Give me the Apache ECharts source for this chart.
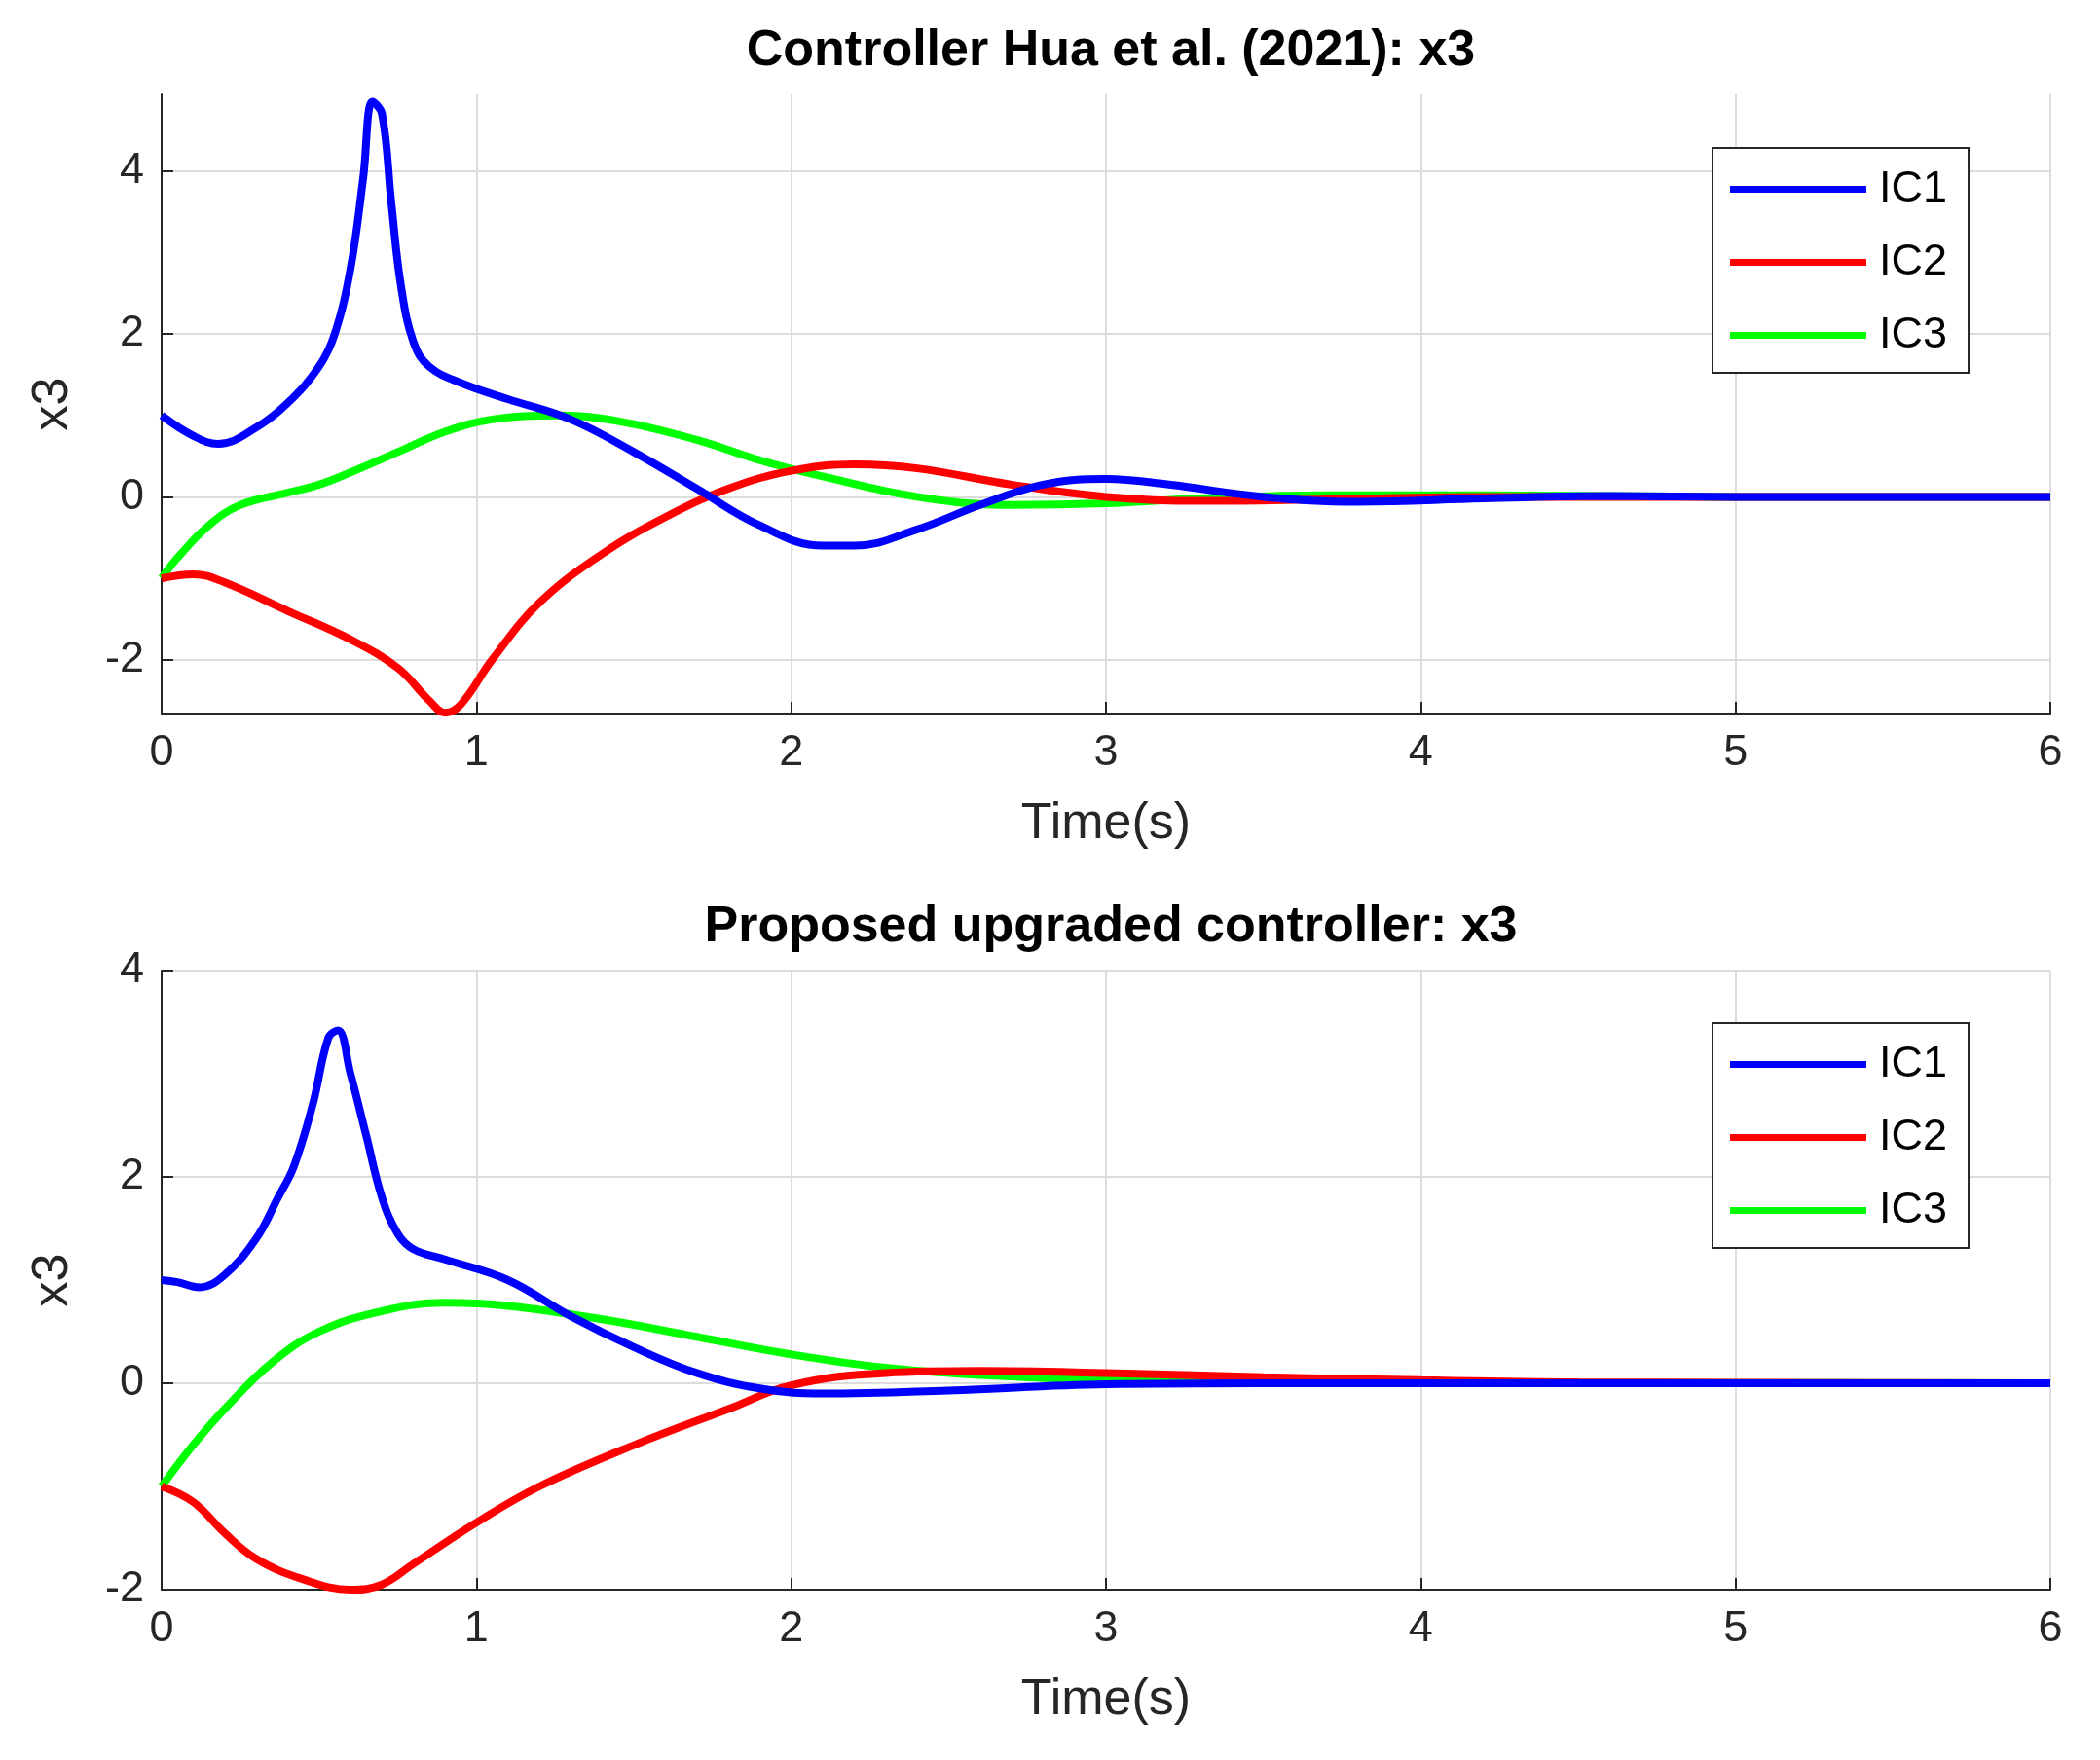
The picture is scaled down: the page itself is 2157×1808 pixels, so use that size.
<!DOCTYPE html><html><head><meta charset="utf-8"><script src="https://cdn.jsdelivr.net/npm/echarts@6/dist/echarts.min.js"></script>
<style>html,body{margin:0;background:#fff}#c{width:2157px;height:1808px}</style></head><body><div id="c"></div><script>
const topIC1=[[0,1],[0.1,0.75],[0.18,0.65],[0.3,0.85],[0.4,1.15],[0.5,1.6],[0.55,2.0],[0.6,2.8],[0.64,3.9],[0.67,4.85],[0.7,4.7],[0.73,3.6],[0.76,2.6],[0.8,1.9],[0.85,1.6],[0.95,1.4],[1.1,1.2],[1.3,0.95],[1.5,0.55],[1.7,0.1],[1.9,-0.35],[2.1,-0.6],[2.2,-0.6],[2.4,-0.4],[2.6,-0.1],[2.8,0.15],[3.0,0.22],[3.2,0.15],[3.5,0.0],[3.8,-0.06],[4.2,-0.02],[4.6,0.01],[5,0],[6,0]];
const topIC2=[[0,-1],[0.1,-0.95],[0.2,-1.05],[0.4,-1.4],[0.6,-1.75],[0.75,-2.1],[0.85,-2.5],[0.9,-2.65],[0.95,-2.55],[1.05,-2.0],[1.2,-1.3],[1.4,-0.7],[1.6,-0.25],[1.8,0.1],[2.0,0.32],[2.2,0.4],[2.4,0.35],[2.7,0.15],[3.0,0.0],[3.3,-0.05],[3.7,-0.03],[4.2,0],[5,0],[6,0]];
const topIC3=[[0,-1],[0.05,-0.75],[0.15,-0.35],[0.25,-0.1],[0.4,0.05],[0.5,0.15],[0.6,0.3],[0.75,0.55],[0.9,0.8],[1.05,0.95],[1.25,1.0],[1.45,0.93],[1.7,0.7],[1.9,0.45],[2.1,0.25],[2.4,0.0],[2.7,-0.1],[3.0,-0.08],[3.3,-0.02],[3.7,0.02],[4.2,0.02],[5,0],[6,0]];
const botIC1=[[0,1],[0.05,0.98],[0.12,0.93],[0.2,1.05],[0.3,1.4],[0.37,1.8],[0.42,2.1],[0.48,2.7],[0.53,3.35],[0.56,3.42],[0.6,3.0],[0.65,2.4],[0.7,1.8],[0.75,1.45],[0.8,1.3],[0.9,1.2],[1.1,1.0],[1.3,0.65],[1.5,0.35],[1.7,0.1],[1.9,-0.05],[2.1,-0.1],[2.5,-0.07],[3,-0.01],[3.5,0],[6,0]];
const botIC2=[[0,-1],[0.1,-1.15],[0.2,-1.45],[0.3,-1.7],[0.45,-1.9],[0.6,-2],[0.7,-1.95],[0.8,-1.75],[1.0,-1.35],[1.2,-1.0],[1.5,-0.6],[1.8,-0.25],[2.0,-0.02],[2.3,0.1],[2.6,0.12],[3,0.1],[3.5,0.06],[4,0.03],[4.5,0.01],[6,0]];
const botIC3=[[0,-1],[0.1,-0.6],[0.2,-0.25],[0.35,0.2],[0.5,0.5],[0.7,0.7],[0.9,0.78],[1.1,0.75],[1.4,0.62],[1.7,0.45],[2.0,0.28],[2.3,0.15],[2.6,0.08],[3,0.03],[3.5,0.01],[6,0]];
const yTicks=[-2,0,2,4];
const titles=['Controller Hua et al. (2021): x3','Proposed upgraded controller: x3'];
const names=['IC1','IC2','IC3'];const colors=['#0000ff','#ff0000','#00ff00'];
const F='Arial, Liberation Sans, sans-serif';
const ax={color:'#262626',fontSize:45,fontFamily:F,margin:18};
function xA(i){return {type:'value',gridIndex:i,min:0,max:6,interval:1,name:'Time(s)',nameLocation:'middle',nameGap:88,nameTextStyle:{fontSize:52,fontFamily:F,color:'#262626'},axisLine:{onZero:false,lineStyle:{color:'#262626',width:2}},axisTick:{inside:true,length:12,lineStyle:{color:'#262626',width:2}},axisLabel:ax,splitLine:{show:true,lineStyle:{color:'#dcdcdc',width:2}}};}
function yA(i,mn,mx){return {type:'value',gridIndex:i,min:mn,max:mx,name:'x3',nameLocation:'middle',nameGap:85,nameTextStyle:{fontSize:52,fontFamily:F,color:'#262626'},axisLine:{show:true,onZero:false,lineStyle:{color:'#262626',width:2}},axisTick:{show:true,inside:true,length:12,customValues:yTicks,lineStyle:{color:'#262626',width:2}},axisLabel:Object.assign({},ax,{customValues:yTicks}),splitLine:{show:false}};}
const data=[[topIC1,topIC2,topIC3],[botIC1,botIC2,botIC3]];
const series=[];
data.forEach((g,gi)=>g.forEach((d,k)=>series.push({type:'line',name:names[k],xAxisIndex:gi,yAxisIndex:gi,data:d,smooth:0.4,showSymbol:false,lineStyle:{color:colors[k],width:8},itemStyle:{color:colors[k]},z:3-k,
 markLine:k===0?{silent:true,symbol:'none',label:{show:false},lineStyle:{color:'#dcdcdc',width:2,type:'solid'},z:0,data:yTicks.map(v=>({yAxis:v}))}:undefined})));
const lg=t=>({top:t,left:1759,orient:'vertical',data:names,icon:'rect',itemWidth:140,itemHeight:7,itemGap:30,padding:[20,22,16,18],borderColor:'#262626',borderWidth:2,backgroundColor:'#fff',textStyle:{fontSize:45,fontFamily:F,color:'#000',padding:[0,0,0,8]}});
echarts.init(document.getElementById('c')).setOption({animation:false,
title:[{text:titles[0],top:22},{text:titles[1],top:922}].map(t=>Object.assign(t,{left:1136,textAlign:'center',textStyle:{fontSize:52,fontWeight:'bold',fontFamily:F,color:'#000'}})),
grid:[{left:166,right:51,top:97,height:636},{left:166,right:51,top:997,height:636}],
xAxis:[xA(0),xA(1)],yAxis:[yA(0,-2.66,4.94),yA(1,-2,4)],legend:[lg(152),lg(1051)],series});
</script></body></html>
